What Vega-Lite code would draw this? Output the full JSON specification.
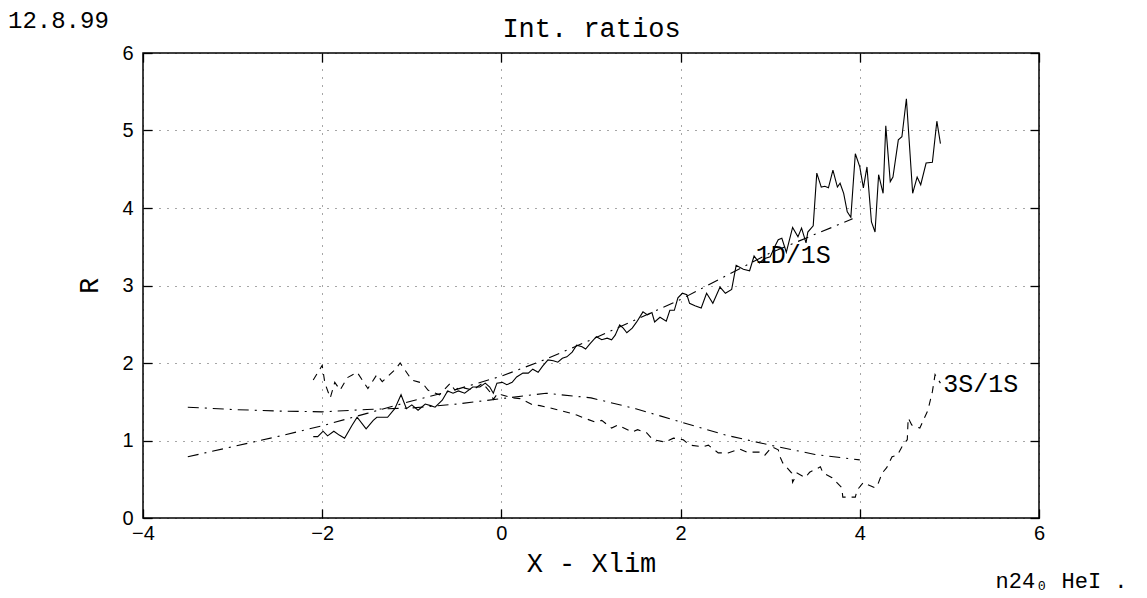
{
  "$schema": "https://vega.github.io/schema/vega-lite/v6.json",
  "autosize": "none",
  "width": 896,
  "height": 465,
  "padding": {"left": 143, "top": 53, "right": 108, "bottom": 80},
  "background": "white",
  "title": {
    "text": "12.8.99",
    "anchor": "start",
    "frame": "group",
    "dx": -135,
    "dy": 23,
    "font": "Liberation Mono",
    "fontSize": 24,
    "fontWeight": "normal",
    "color": "black"
  },
  "datasets": {
    "ratio1d": [
      {"x": -2.10, "r": 1.05}, {"x": -2.05, "r": 1.05}, {"x": -1.99, "r": 1.12}, {"x": -1.94, "r": 1.06},
      {"x": -1.87, "r": 1.12}, {"x": -1.81, "r": 1.07}, {"x": -1.75, "r": 1.03}, {"x": -1.67, "r": 1.19},
      {"x": -1.61, "r": 1.30}, {"x": -1.51, "r": 1.15}, {"x": -1.43, "r": 1.26}, {"x": -1.39, "r": 1.30},
      {"x": -1.27, "r": 1.30}, {"x": -1.19, "r": 1.41}, {"x": -1.12, "r": 1.59}, {"x": -1.06, "r": 1.41},
      {"x": -1.00, "r": 1.46}, {"x": -0.93, "r": 1.39}, {"x": -0.85, "r": 1.47}, {"x": -0.79, "r": 1.45},
      {"x": -0.74, "r": 1.43}, {"x": -0.66, "r": 1.52}, {"x": -0.60, "r": 1.64}, {"x": -0.54, "r": 1.61},
      {"x": -0.48, "r": 1.64}, {"x": -0.41, "r": 1.61}, {"x": -0.32, "r": 1.69}, {"x": -0.24, "r": 1.69},
      {"x": -0.18, "r": 1.74}, {"x": -0.13, "r": 1.69}, {"x": -0.09, "r": 1.61}, {"x": -0.05, "r": 1.74},
      {"x": 0.01, "r": 1.75}, {"x": 0.06, "r": 1.72}, {"x": 0.12, "r": 1.75}, {"x": 0.17, "r": 1.82},
      {"x": 0.24, "r": 1.87}, {"x": 0.30, "r": 1.87}, {"x": 0.35, "r": 1.92}, {"x": 0.41, "r": 1.88},
      {"x": 0.46, "r": 1.96}, {"x": 0.52, "r": 2.04}, {"x": 0.58, "r": 2.03}, {"x": 0.63, "r": 2.01},
      {"x": 0.68, "r": 2.06}, {"x": 0.73, "r": 2.08}, {"x": 0.79, "r": 2.14}, {"x": 0.84, "r": 2.23},
      {"x": 0.90, "r": 2.21}, {"x": 0.94, "r": 2.18}, {"x": 0.99, "r": 2.25}, {"x": 1.06, "r": 2.34},
      {"x": 1.12, "r": 2.30}, {"x": 1.18, "r": 2.32}, {"x": 1.23, "r": 2.30}, {"x": 1.27, "r": 2.36},
      {"x": 1.32, "r": 2.49}, {"x": 1.36, "r": 2.45}, {"x": 1.40, "r": 2.39}, {"x": 1.46, "r": 2.45},
      {"x": 1.51, "r": 2.53}, {"x": 1.58, "r": 2.66}, {"x": 1.63, "r": 2.62}, {"x": 1.68, "r": 2.65},
      {"x": 1.71, "r": 2.53}, {"x": 1.77, "r": 2.59}, {"x": 1.84, "r": 2.54}, {"x": 1.88, "r": 2.68},
      {"x": 1.93, "r": 2.68}, {"x": 1.97, "r": 2.84}, {"x": 2.02, "r": 2.90}, {"x": 2.07, "r": 2.88},
      {"x": 2.10, "r": 2.77}, {"x": 2.16, "r": 2.74}, {"x": 2.23, "r": 2.71}, {"x": 2.29, "r": 2.90},
      {"x": 2.36, "r": 2.77}, {"x": 2.44, "r": 2.98}, {"x": 2.50, "r": 2.90}, {"x": 2.57, "r": 2.95},
      {"x": 2.62, "r": 3.26}, {"x": 2.70, "r": 3.21}, {"x": 2.77, "r": 3.19}, {"x": 2.82, "r": 3.38},
      {"x": 2.88, "r": 3.29}, {"x": 2.94, "r": 3.35}, {"x": 3.00, "r": 3.37}, {"x": 3.05, "r": 3.50},
      {"x": 3.09, "r": 3.59}, {"x": 3.13, "r": 3.61}, {"x": 3.18, "r": 3.43}, {"x": 3.25, "r": 3.75},
      {"x": 3.31, "r": 3.63}, {"x": 3.35, "r": 3.74}, {"x": 3.40, "r": 3.55}, {"x": 3.42, "r": 3.69},
      {"x": 3.48, "r": 3.77}, {"x": 3.52, "r": 4.45}, {"x": 3.57, "r": 4.27}, {"x": 3.61, "r": 4.28},
      {"x": 3.65, "r": 4.26}, {"x": 3.70, "r": 4.49}, {"x": 3.75, "r": 4.27}, {"x": 3.78, "r": 4.32},
      {"x": 3.82, "r": 4.19}, {"x": 3.86, "r": 3.95}, {"x": 3.90, "r": 3.88}, {"x": 3.95, "r": 4.70},
      {"x": 4.00, "r": 4.53}, {"x": 4.04, "r": 4.26}, {"x": 4.08, "r": 4.53}, {"x": 4.13, "r": 3.82},
      {"x": 4.17, "r": 3.69}, {"x": 4.21, "r": 4.43}, {"x": 4.26, "r": 4.19}, {"x": 4.29, "r": 5.06},
      {"x": 4.34, "r": 4.34}, {"x": 4.37, "r": 4.40}, {"x": 4.43, "r": 4.88}, {"x": 4.47, "r": 4.92},
      {"x": 4.52, "r": 5.41}, {"x": 4.59, "r": 4.19}, {"x": 4.64, "r": 4.40}, {"x": 4.68, "r": 4.30},
      {"x": 4.74, "r": 4.58}, {"x": 4.81, "r": 4.59}, {"x": 4.86, "r": 5.12}, {"x": 4.90, "r": 4.83}
    ],
    "ratio3s": [
      {"x": -2.10, "r": 1.78}, {"x": -2.00, "r": 1.97}, {"x": -1.97, "r": 1.74}, {"x": -1.91, "r": 1.55},
      {"x": -1.86, "r": 1.75}, {"x": -1.80, "r": 1.65}, {"x": -1.72, "r": 1.81}, {"x": -1.61, "r": 1.88},
      {"x": -1.49, "r": 1.67}, {"x": -1.39, "r": 1.85}, {"x": -1.33, "r": 1.76}, {"x": -1.19, "r": 1.91},
      {"x": -1.13, "r": 2.00}, {"x": -1.00, "r": 1.78}, {"x": -0.88, "r": 1.74}, {"x": -0.82, "r": 1.65},
      {"x": -0.69, "r": 1.59}, {"x": -0.57, "r": 1.74}, {"x": -0.52, "r": 1.65}, {"x": -0.46, "r": 1.69},
      {"x": -0.32, "r": 1.65}, {"x": -0.21, "r": 1.74}, {"x": -0.13, "r": 1.63}, {"x": -0.09, "r": 1.53},
      {"x": -0.04, "r": 1.61}, {"x": 0.00, "r": 1.59}, {"x": 0.12, "r": 1.55}, {"x": 0.21, "r": 1.54},
      {"x": 0.35, "r": 1.46}, {"x": 0.43, "r": 1.45}, {"x": 0.58, "r": 1.41}, {"x": 0.68, "r": 1.38},
      {"x": 0.84, "r": 1.33}, {"x": 0.90, "r": 1.30}, {"x": 1.04, "r": 1.24}, {"x": 1.12, "r": 1.26},
      {"x": 1.23, "r": 1.16}, {"x": 1.30, "r": 1.20}, {"x": 1.46, "r": 1.11}, {"x": 1.52, "r": 1.14},
      {"x": 1.62, "r": 1.10}, {"x": 1.69, "r": 1.01}, {"x": 1.83, "r": 0.98}, {"x": 1.92, "r": 1.03},
      {"x": 2.03, "r": 1.01}, {"x": 2.10, "r": 0.94}, {"x": 2.25, "r": 0.92}, {"x": 2.31, "r": 0.94},
      {"x": 2.42, "r": 0.84}, {"x": 2.53, "r": 0.84}, {"x": 2.66, "r": 0.89}, {"x": 2.74, "r": 0.85},
      {"x": 2.89, "r": 0.85}, {"x": 2.94, "r": 0.81}, {"x": 3.02, "r": 0.92}, {"x": 3.09, "r": 0.88},
      {"x": 3.11, "r": 0.79}, {"x": 3.14, "r": 0.71}, {"x": 3.24, "r": 0.58}, {"x": 3.25, "r": 0.46},
      {"x": 3.30, "r": 0.58}, {"x": 3.39, "r": 0.52}, {"x": 3.44, "r": 0.59}, {"x": 3.56, "r": 0.66},
      {"x": 3.59, "r": 0.58}, {"x": 3.69, "r": 0.52}, {"x": 3.80, "r": 0.39}, {"x": 3.81, "r": 0.27},
      {"x": 3.95, "r": 0.27}, {"x": 3.97, "r": 0.36}, {"x": 4.04, "r": 0.46}, {"x": 4.09, "r": 0.43},
      {"x": 4.17, "r": 0.39}, {"x": 4.20, "r": 0.43}, {"x": 4.25, "r": 0.58}, {"x": 4.30, "r": 0.65},
      {"x": 4.36, "r": 0.79}, {"x": 4.42, "r": 0.81}, {"x": 4.48, "r": 0.94}, {"x": 4.53, "r": 1.01},
      {"x": 4.54, "r": 1.29}, {"x": 4.58, "r": 1.20}, {"x": 4.67, "r": 1.16}, {"x": 4.76, "r": 1.39},
      {"x": 4.81, "r": 1.63}, {"x": 4.84, "r": 1.85}, {"x": 4.90, "r": 1.74}
    ],
    "fit1d": [
      {"x": -3.5, "r": 0.79}, {"x": -3.0, "r": 0.92}, {"x": -2.5, "r": 1.05}, {"x": -2.0, "r": 1.19},
      {"x": -1.5, "r": 1.35}, {"x": -1.0, "r": 1.51}, {"x": -0.5, "r": 1.66}, {"x": 0.0, "r": 1.83},
      {"x": 0.5, "r": 2.05}, {"x": 1.0, "r": 2.30}, {"x": 1.5, "r": 2.56}, {"x": 2.0, "r": 2.82},
      {"x": 2.5, "r": 3.12}, {"x": 3.0, "r": 3.42}, {"x": 3.5, "r": 3.66}, {"x": 3.92, "r": 3.86}
    ],
    "fit3s": [
      {"x": -3.5, "r": 1.43}, {"x": -3.0, "r": 1.40}, {"x": -2.5, "r": 1.38}, {"x": -2.0, "r": 1.37},
      {"x": -1.5, "r": 1.40}, {"x": -1.0, "r": 1.42}, {"x": -0.5, "r": 1.47}, {"x": 0.0, "r": 1.54},
      {"x": 0.5, "r": 1.61}, {"x": 1.0, "r": 1.55}, {"x": 1.5, "r": 1.41}, {"x": 2.0, "r": 1.24},
      {"x": 2.5, "r": 1.07}, {"x": 3.0, "r": 0.94}, {"x": 3.5, "r": 0.82}, {"x": 4.0, "r": 0.75}
    ],
    "labels": [
      {"x": 2.84, "r": 3.39, "label": "1D/1S"},
      {"x": 4.93, "r": 1.73, "label": "3S/1S"}
    ]
  },
  "layer": [
    {
      "data": {"name": "ratio1d"},
      "mark": {"type": "line", "color": "black", "strokeWidth": 1.1},
      "encoding": {
        "x": {
          "field": "x", "type": "quantitative",
          "scale": {"domain": [-4, 6], "nice": false, "zero": false},
          "axis": {"orient": "bottom", "values": [-4, -2, 0, 2, 4, 6], "grid": true, "title": "X - Xlim", "labelPadding": 14, "titlePadding": 7}
        },
        "y": {
          "field": "r", "type": "quantitative",
          "scale": {"domain": [0, 6], "nice": false},
          "axis": {"orient": "left", "values": [0, 1, 2, 3, 4, 5, 6], "grid": true, "title": "R", "labelPadding": 19, "titlePadding": 18}
        }
      }
    },
    {
      "data": {"name": "ratio3s"},
      "mark": {"type": "line", "color": "black", "strokeWidth": 1.1, "strokeDash": [7, 6]},
      "encoding": {
        "x": {
          "field": "x", "type": "quantitative",
          "scale": {"domain": [-4, 6], "nice": false, "zero": false},
          "axis": {"orient": "top", "values": [-4, -2, 0, 2, 4, 6], "grid": false, "labels": false, "title": "Int. ratios", "titlePadding": 10}
        },
        "y": {
          "field": "r", "type": "quantitative",
          "scale": {"domain": [0, 6], "nice": false},
          "axis": {
            "orient": "right", "values": [0, 1, 2, 3, 4, 5, 6], "grid": false, "labels": false,
            "title": "n24₀ HeI   .", "titleAngle": 0, "titleAlign": "left", "titleBaseline": "middle",
            "titleX": -44, "titleY": 527, "titleFontSize": 22
          }
        }
      }
    },
    {
      "data": {"name": "fit1d"},
      "mark": {"type": "line", "color": "black", "strokeWidth": 1.1, "strokeDash": [11, 6, 2, 6]},
      "encoding": {
        "x": {"field": "x", "type": "quantitative", "axis": null},
        "y": {"field": "r", "type": "quantitative", "axis": null}
      }
    },
    {
      "data": {"name": "fit3s"},
      "mark": {"type": "line", "color": "black", "strokeWidth": 1.1, "strokeDash": [11, 6, 2, 6]},
      "encoding": {
        "x": {"field": "x", "type": "quantitative", "axis": null},
        "y": {"field": "r", "type": "quantitative", "axis": null}
      }
    },
    {
      "data": {"name": "labels"},
      "mark": {"type": "text", "align": "left", "baseline": "middle", "font": "Liberation Mono", "fontSize": 25, "color": "black"},
      "encoding": {
        "x": {"field": "x", "type": "quantitative", "axis": null},
        "y": {"field": "r", "type": "quantitative", "axis": null},
        "text": {"field": "label"}
      }
    }
  ],
  "config": {
    "view": {"stroke": "black", "strokeWidth": 1.5},
    "axis": {
      "domain": false,
      "ticks": true,
      "tickColor": "black",
      "tickSize": -9,
      "tickWidth": 1.3,
      "labelFont": "Liberation Sans",
      "labelFontSize": 20,
      "labelColor": "black",
      "labelFlush": false,
      "labelOverlap": false,
      "titleFont": "Liberation Mono",
      "titleFontSize": 27,
      "titleFontWeight": "normal",
      "titleColor": "black",
      "gridColor": "black",
      "gridDash": [1, 7],
      "gridOpacity": 0.7,
      "gridWidth": 1
    }
  }
}
